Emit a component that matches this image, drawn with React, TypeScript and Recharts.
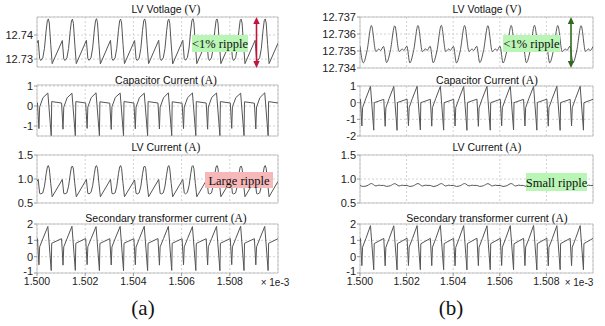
import React from 'react';
import { LineChart, Line, XAxis, YAxis, CartesianGrid, ReferenceArea } from 'recharts';

const SANS = '"Liberation Sans", Arial, sans-serif';
const SERIF = '"Liberation Serif", "Times New Roman", serif';

const X_TICKS = [1.5, 1.502, 1.504, 1.506, 1.508];

// time samples for current waveforms (x 1e-3 s)
const CUR_T = [1.5,
  1.50002, 1.50008, 1.50011, 1.50025, 1.50045, 1.50059, 1.50061,
  1.50102, 1.50108, 1.50111, 1.50125, 1.50145, 1.50159, 1.50161,
  1.50202, 1.50208, 1.50211, 1.50225, 1.50245, 1.50259, 1.50261,
  1.50302, 1.50308, 1.50311, 1.50325, 1.50345, 1.50359, 1.50361,
  1.50402, 1.50408, 1.50411, 1.50425, 1.50445, 1.50459, 1.50461,
  1.50502, 1.50508, 1.50511, 1.50525, 1.50545, 1.50559, 1.50561,
  1.50602, 1.50608, 1.50611, 1.50625, 1.50645, 1.50659, 1.50661,
  1.50702, 1.50708, 1.50711, 1.50725, 1.50745, 1.50759, 1.50761,
  1.50802, 1.50808, 1.50811, 1.50825, 1.50845, 1.50859, 1.50861,
  1.50902, 1.50908, 1.50911, 1.50925, 1.50945, 1.50959, 1.50961,
  1.51];

const LEFT_CAP = [0.14,
  0.15, -1.13, -0.05, 0.42, 0.65, -1.48, 0.22,
  0.15, -1.16, -0.06, 0.41, 0.64, -1.48, 0.22,
  0.15, -1.12, -0.05, 0.42, 0.66, -1.48, 0.21,
  0.14, -1.17, -0.04, 0.43, 0.65, -1.48, 0.22,
  0.15, -1.14, -0.05, 0.42, 0.64, -1.48, 0.22,
  0.15, -1.15, -0.06, 0.41, 0.66, -1.48, 0.21,
  0.14, -1.13, -0.05, 0.42, 0.65, -1.48, 0.22,
  0.15, -1.16, -0.05, 0.43, 0.65, -1.48, 0.22,
  0.15, -1.12, -0.04, 0.42, 0.64, -1.48, 0.21,
  0.14, -1.15, -0.05, 0.42, 0.66, -1.48, 0.22,
  0.15];

const LEFT_SEC = [1.08,
  1.1, -0.5, 0.6, 1.12, 1.85, -0.85, 0.82,
  1.1, -0.52, 0.6, 1.12, 1.86, -0.84, 0.82,
  1.11, -0.49, 0.61, 1.12, 1.84, -0.85, 0.81,
  1.1, -0.51, 0.6, 1.13, 1.85, -0.86, 0.82,
  1.1, -0.5, 0.59, 1.12, 1.86, -0.85, 0.82,
  1.11, -0.52, 0.6, 1.11, 1.85, -0.84, 0.82,
  1.1, -0.5, 0.6, 1.12, 1.84, -0.85, 0.81,
  1.1, -0.51, 0.61, 1.12, 1.85, -0.86, 0.82,
  1.11, -0.49, 0.6, 1.12, 1.86, -0.85, 0.82,
  1.1, -0.5, 0.6, 1.12, 1.85, -0.85, 0.82,
  1.1];

const RIGHT_CAP = [0.18,
  0.2, -1.4, -0.3, 0.25, 0.98, -1.65, 0.0,
  0.2, -1.42, -0.31, 0.25, 0.97, -1.66, 0.01,
  0.21, -1.38, -0.3, 0.26, 0.98, -1.64, 0.0,
  0.2, -1.41, -0.29, 0.25, 0.98, -1.65, 0.0,
  0.2, -1.4, -0.3, 0.24, 0.97, -1.66, 0.01,
  0.21, -1.42, -0.31, 0.25, 0.98, -1.65, 0.0,
  0.2, -1.39, -0.3, 0.25, 0.98, -1.64, 0.0,
  0.2, -1.4, -0.29, 0.26, 0.97, -1.65, 0.01,
  0.21, -1.41, -0.3, 0.25, 0.98, -1.66, 0.0,
  0.2, -1.4, -0.3, 0.25, 0.98, -1.65, 0.0,
  0.2];

const RIGHT_SEC = [1.1,
  1.12, -0.55, 0.58, 1.1, 1.9, -0.8, 0.8,
  1.12, -0.56, 0.58, 1.1, 1.89, -0.81, 0.8,
  1.13, -0.54, 0.59, 1.11, 1.9, -0.8, 0.79,
  1.12, -0.55, 0.58, 1.1, 1.91, -0.8, 0.8,
  1.12, -0.56, 0.57, 1.1, 1.9, -0.81, 0.8,
  1.13, -0.55, 0.58, 1.1, 1.89, -0.8, 0.8,
  1.12, -0.54, 0.58, 1.11, 1.9, -0.8, 0.79,
  1.12, -0.55, 0.59, 1.1, 1.91, -0.81, 0.8,
  1.13, -0.56, 0.58, 1.1, 1.9, -0.8, 0.8,
  1.12, -0.55, 0.58, 1.1, 1.9, -0.8, 0.8,
  1.12];

// time samples for left LV voltage / LV current
const LV_T = [1.5,
  1.50005, 1.50011, 1.50016, 1.50024, 1.50031, 1.50038, 1.50043, 1.50047, 1.50051, 1.50057, 1.50063,
  1.50105, 1.50111, 1.50116, 1.50124, 1.50131, 1.50138, 1.50143, 1.50147, 1.50151, 1.50157, 1.50163,
  1.50205, 1.50211, 1.50216, 1.50224, 1.50231, 1.50238, 1.50243, 1.50247, 1.50251, 1.50257, 1.50263,
  1.50305, 1.50311, 1.50316, 1.50324, 1.50331, 1.50338, 1.50343, 1.50347, 1.50351, 1.50357, 1.50363,
  1.50405, 1.50411, 1.50416, 1.50424, 1.50431, 1.50438, 1.50443, 1.50447, 1.50451, 1.50457, 1.50463,
  1.50505, 1.50511, 1.50516, 1.50524, 1.50531, 1.50538, 1.50543, 1.50547, 1.50551, 1.50557, 1.50563,
  1.50605, 1.50611, 1.50616, 1.50624, 1.50631, 1.50638, 1.50643, 1.50647, 1.50651, 1.50657, 1.50663,
  1.50705, 1.50711, 1.50716, 1.50724, 1.50731, 1.50738, 1.50743, 1.50747, 1.50751, 1.50757, 1.50763,
  1.50805, 1.50811, 1.50816, 1.50824, 1.50831, 1.50838, 1.50843, 1.50847, 1.50851, 1.50857, 1.50863,
  1.50905, 1.50911, 1.50916, 1.50924, 1.50931, 1.50938, 1.50943, 1.50947, 1.50951, 1.50957, 1.50963,
  1.51];

const LEFT_V = [12.7366,
  12.7378, 12.7302, 12.7294, 12.7305, 12.7345, 12.7420, 12.7460, 12.7467, 12.7450, 12.7360, 12.7281,
  12.7377, 12.7301, 12.7294, 12.7304, 12.7344, 12.7419, 12.7459, 12.7466, 12.7449, 12.7359, 12.7281,
  12.7378, 12.7302, 12.7295, 12.7305, 12.7346, 12.7421, 12.7461, 12.7468, 12.7451, 12.7360, 12.7280,
  12.7378, 12.7302, 12.7294, 12.7305, 12.7345, 12.7420, 12.7460, 12.7466, 12.7450, 12.7361, 12.7281,
  12.7377, 12.7301, 12.7294, 12.7304, 12.7345, 12.7420, 12.7460, 12.7467, 12.7450, 12.7360, 12.7281,
  12.7378, 12.7302, 12.7294, 12.7305, 12.7344, 12.7419, 12.7459, 12.7466, 12.7449, 12.7359, 12.7280,
  12.7378, 12.7302, 12.7295, 12.7306, 12.7346, 12.7421, 12.7461, 12.7468, 12.7451, 12.7360, 12.7281,
  12.7377, 12.7301, 12.7294, 12.7305, 12.7345, 12.7420, 12.7460, 12.7467, 12.7450, 12.7360, 12.7281,
  12.7378, 12.7302, 12.7294, 12.7305, 12.7345, 12.7420, 12.7460, 12.7466, 12.7450, 12.7361, 12.7281,
  12.7378, 12.7302, 12.7294, 12.7305, 12.7345, 12.7420, 12.7460, 12.7467, 12.7450, 12.7360, 12.7281,
  12.7366];

const LEFT_I = [0.95,
  0.99, 0.70, 0.69, 0.71, 0.85, 1.11, 1.25, 1.28, 1.22, 0.905, 0.63,
  0.99, 0.70, 0.69, 0.71, 0.85, 1.10, 1.25, 1.27, 1.21, 0.90, 0.63,
  0.99, 0.70, 0.69, 0.72, 0.86, 1.11, 1.26, 1.28, 1.22, 0.91, 0.63,
  0.99, 0.70, 0.69, 0.71, 0.85, 1.11, 1.25, 1.28, 1.22, 0.905, 0.63,
  0.98, 0.70, 0.69, 0.71, 0.85, 1.11, 1.25, 1.27, 1.22, 0.90, 0.63,
  0.99, 0.70, 0.69, 0.71, 0.85, 1.10, 1.25, 1.28, 1.21, 0.905, 0.63,
  0.99, 0.71, 0.69, 0.72, 0.86, 1.11, 1.26, 1.28, 1.22, 0.91, 0.63,
  0.99, 0.70, 0.69, 0.71, 0.85, 1.11, 1.25, 1.28, 1.22, 0.905, 0.63,
  0.98, 0.70, 0.69, 0.71, 0.85, 1.11, 1.25, 1.27, 1.22, 0.90, 0.63,
  0.99, 0.70, 0.69, 0.71, 0.85, 1.11, 1.25, 1.28, 1.22, 0.905, 0.63,
  0.95];

// time samples for right LV voltage / LV current
const RV_T = [
  1.5, 1.50014, 1.5003, 1.50049, 1.50068, 1.50081, 1.50088,
  1.50101, 1.50114, 1.5013, 1.50149, 1.50168, 1.50181, 1.50188,
  1.50201, 1.50214, 1.5023, 1.50249, 1.50268, 1.50281, 1.50288,
  1.50301, 1.50314, 1.5033, 1.50349, 1.50368, 1.50381, 1.50388,
  1.50401, 1.50414, 1.5043, 1.50449, 1.50468, 1.50481, 1.50488,
  1.50501, 1.50514, 1.5053, 1.50549, 1.50568, 1.50581, 1.50588,
  1.50601, 1.50614, 1.5063, 1.50649, 1.50668, 1.50681, 1.50688,
  1.50701, 1.50714, 1.5073, 1.50749, 1.50768, 1.50781, 1.50788,
  1.50801, 1.50814, 1.5083, 1.50849, 1.50868, 1.50881, 1.50888,
  1.50901, 1.50914, 1.5093, 1.50949, 1.50968, 1.50981, 1.50988,
  1.51];

const RIGHT_V = [
  12.73528, 12.7343, 12.7350, 12.7365, 12.73497, 12.73512, 12.73503,
  12.73527, 12.73432, 12.7350, 12.73648, 12.73497, 12.73512, 12.73503,
  12.73528, 12.7343, 12.73502, 12.7365, 12.73496, 12.73513, 12.73503,
  12.73528, 12.73431, 12.7350, 12.73651, 12.73497, 12.73512, 12.73504,
  12.73527, 12.7343, 12.7350, 12.7365, 12.73497, 12.73512, 12.73503,
  12.73528, 12.73432, 12.73501, 12.73649, 12.73496, 12.73512, 12.73503,
  12.73528, 12.7343, 12.7350, 12.7365, 12.73497, 12.73513, 12.73503,
  12.73527, 12.73431, 12.7350, 12.73651, 12.73497, 12.73512, 12.73504,
  12.73528, 12.7343, 12.73502, 12.7365, 12.73496, 12.73512, 12.73503,
  12.73528, 12.73432, 12.7350, 12.73649, 12.73497, 12.73512, 12.73503,
  12.73526];

const RIGHT_I = [
  0.865, 0.845, 0.86, 0.905, 0.855, 0.872, 0.866,
  0.866, 0.846, 0.86, 0.903, 0.855, 0.871, 0.865,
  0.865, 0.845, 0.861, 0.905, 0.854, 0.872, 0.866,
  0.866, 0.844, 0.86, 0.904, 0.855, 0.872, 0.865,
  0.865, 0.845, 0.86, 0.905, 0.856, 0.871, 0.866,
  0.866, 0.846, 0.86, 0.903, 0.855, 0.872, 0.865,
  0.865, 0.845, 0.861, 0.905, 0.854, 0.872, 0.866,
  0.866, 0.844, 0.86, 0.904, 0.855, 0.871, 0.865,
  0.865, 0.845, 0.86, 0.905, 0.856, 0.872, 0.866,
  0.866, 0.846, 0.86, 0.903, 0.855, 0.872, 0.865,
  0.865];

const TITLES = [
  ['LV Votlage ', '(V)'],
  ['Capacitor Current ', '(A)'],
  ['LV Current ', '(A)'],
  ['Secondary transformer current ', '(A)'],
];

const zip = (t: number[], v: number[]) => t.map((x, i) => ({ t: x, v: v[i] }));

const f0 = (v: number) => String(v);
const f1 = (v: number) => v.toFixed(1);
const f2 = (v: number) => v.toFixed(2);
const f3 = (v: number) => v.toFixed(3);

type PanelProps = {
  left: number; top: number; width: number; h: number; yw: number; mr: number;
  data: { t: number; v: number }[]; domain: [number, number]; yticks: number[];
  fmt: (v: number) => string; curve: 'linear' | 'monotone'; bottom?: boolean;
};

function Panel(p: PanelProps) {
  const mb = p.bottom ? 0 : 6;
  const H = p.h + 6 + (p.bottom ? 20 : 6);
  const xTick = { fontSize: 10.5, fill: '#222', fontFamily: SANS };
  const lowest = p.domain[0];
  const YTick = (props: any) => {
    const { x, y, payload, textAnchor } = props;
    const shift = p.bottom && payload.value === lowest ? -2 : 0;
    return (
      <text x={x} y={y + shift} dy="0.355em" textAnchor={textAnchor || 'end'}
        fontSize={11} fill="#222" fontFamily={SANS}>{p.fmt(payload.value)}</text>
    );
  };
  return (
    <div style={{ position: 'absolute', left: p.left, top: p.top - 6 }}>
      <LineChart width={p.width} height={H} data={p.data}
        margin={{ top: 6, right: p.mr, bottom: mb, left: 0 }} style={{ overflow: 'visible' }}>
        <CartesianGrid stroke="#d2d2d2" strokeDasharray="2 2" />
        <XAxis dataKey="t" type="number" domain={[1.5, 1.51]} ticks={X_TICKS} allowDataOverflow
          hide={!p.bottom} height={20} tickFormatter={f3} tick={xTick} tickSize={3} tickMargin={2}
          axisLine={false} tickLine={{ stroke: '#999' }} interval={0} />
        <YAxis type="number" domain={p.domain} ticks={p.yticks} allowDataOverflow width={p.yw}
          tick={<YTick />} tickSize={3} tickMargin={1}
          axisLine={false} tickLine={{ stroke: '#999' }} interval={0} />
        <ReferenceArea x1={1.5} x2={1.51} y1={p.domain[0]} y2={p.domain[1]}
          fill="none" fillOpacity={0} stroke="#c4c4c4" strokeWidth={1} />
        <Line dataKey="v" type={p.curve} stroke="#555" strokeWidth={1} dot={false}
          isAnimationActive={false} />
      </LineChart>
    </div>
  );
}

function Title({ x, y, parts }: { x: number; y: number; parts: string[] }) {
  return (
    <text x={x} y={y} textAnchor="middle" dominantBaseline="central" fill="#111">
      <tspan fontFamily={SANS} fontSize={10.5}>{parts[0]}</tspan>
      <tspan fontFamily={SERIF} fontSize={11.5}>{parts[1]}</tspan>
    </text>
  );
}

function Arrow({ x, y1, y2, color }: { x: number; y1: number; y2: number; color: string }) {
  return (
    <g>
      <line x1={x} y1={y1 + 5} x2={x} y2={y2 - 5} stroke={color} strokeWidth={1.6} />
      <polygon points={`${x},${y1} ${x - 3.2},${y1 + 7} ${x + 3.2},${y1 + 7}`} fill={color} />
      <polygon points={`${x},${y2} ${x - 3.2},${y2 - 7} ${x + 3.2},${y2 - 7}`} fill={color} />
    </g>
  );
}

function Box({ x, y, w, h, fill, label }: { x: number; y: number; w: number; h: number; fill: string; label: string }) {
  return (
    <g>
      <rect x={x} y={y} width={w} height={h} fill={fill} />
      <text x={x + w / 2} y={y + h / 2 + 0.5} textAnchor="middle" dominantBaseline="central"
        fontFamily={SERIF} fontSize={12.5} fill="#111">{label}</text>
    </g>
  );
}

export default function App() {
  const L = { left: 0, width: 284, yw: 37, mr: 6 };
  const R = { left: 300, width: 300, yw: 60, mr: 7 };
  const titleY = [9, 80, 147, 218];
  return (
    <div style={{ position: 'absolute', left: 0, top: 0, width: 605, height: 326, background: '#fff', overflow: 'hidden' }}>
      <Panel {...L} top={17} h={50} data={zip(LV_T, LEFT_V)} domain={[12.7267, 12.7475]} yticks={[12.73, 12.74]} fmt={f2} curve="linear" />
      <Panel {...L} top={85} h={51} data={zip(CUR_T, LEFT_CAP)} domain={[-1.5, 1.05]} yticks={[-1, 0, 1]} fmt={f0} curve="linear" />
      <Panel {...L} top={155} h={48} data={zip(LV_T, LEFT_I)} domain={[0.5, 1.5]} yticks={[0.5, 1.0, 1.5]} fmt={f1} curve="linear" />
      <Panel {...L} top={224} h={49} data={zip(CUR_T, LEFT_SEC)} domain={[-1, 2]} yticks={[-1, 0, 1, 2]} fmt={f0} curve="linear" bottom />

      <Panel {...R} top={17} h={51} data={zip(RV_T, RIGHT_V)} domain={[12.734, 12.737]} yticks={[12.734, 12.735, 12.736, 12.737]} fmt={f3} curve="monotone" />
      <Panel {...R} top={86} h={50} data={zip(CUR_T, RIGHT_CAP)} domain={[-2, 1]} yticks={[-2, -1, 0, 1]} fmt={f0} curve="linear" />
      <Panel {...R} top={155} h={48} data={zip(RV_T, RIGHT_I)} domain={[0.5, 1.5]} yticks={[0.5, 1.0, 1.5]} fmt={f1} curve="monotone" />
      <Panel {...R} top={224} h={49} data={zip(CUR_T, RIGHT_SEC)} domain={[-1, 2]} yticks={[-1, 0, 1, 2]} fmt={f0} curve="linear" bottom />

      <svg width={605} height={326} style={{ position: 'absolute', left: 0, top: 0, pointerEvents: 'none' }}>
        {TITLES.map((p, i) => <Title key={'l' + i} x={166} y={titleY[i]} parts={p} />)}
        {TITLES.map((p, i) => <Title key={'r' + i} x={487} y={titleY[i]} parts={p} />)}

        <Box x={192} y={35} w={56} h={17} fill="#b9f5b4" label="<1% ripple" />
        <Arrow x={256.5} y1={17} y2={68} color="#c0143c" />
        <Box x={503} y={35} w={57} h={17} fill="#b9f5b4" label="<1% ripple" />
        <Arrow x={571} y1={17} y2={68} color="#2f6a1d" />
        <Box x={205} y={172} w={68} h={16} fill="#f6b8b8" label="Large ripple" />
        <Box x={526} y={173} w={61} h={18} fill="#b9f5b4" label="Small ripple" />

        <text x={275} y={282} textAnchor="middle" dominantBaseline="central" fontFamily={SANS} fontSize={10} fill="#222">× 1e-3</text>
        <text x={579} y={282} textAnchor="middle" dominantBaseline="central" fontFamily={SANS} fontSize={10} fill="#222">× 1e-3</text>

        <text x={143} y={308} textAnchor="middle" dominantBaseline="central" fontFamily={SERIF} fontSize={21} fill="#111">(a)</text>
        <text x={451} y={308} textAnchor="middle" dominantBaseline="central" fontFamily={SERIF} fontSize={21} fill="#111">(b)</text>
      </svg>
    </div>
  );
}
